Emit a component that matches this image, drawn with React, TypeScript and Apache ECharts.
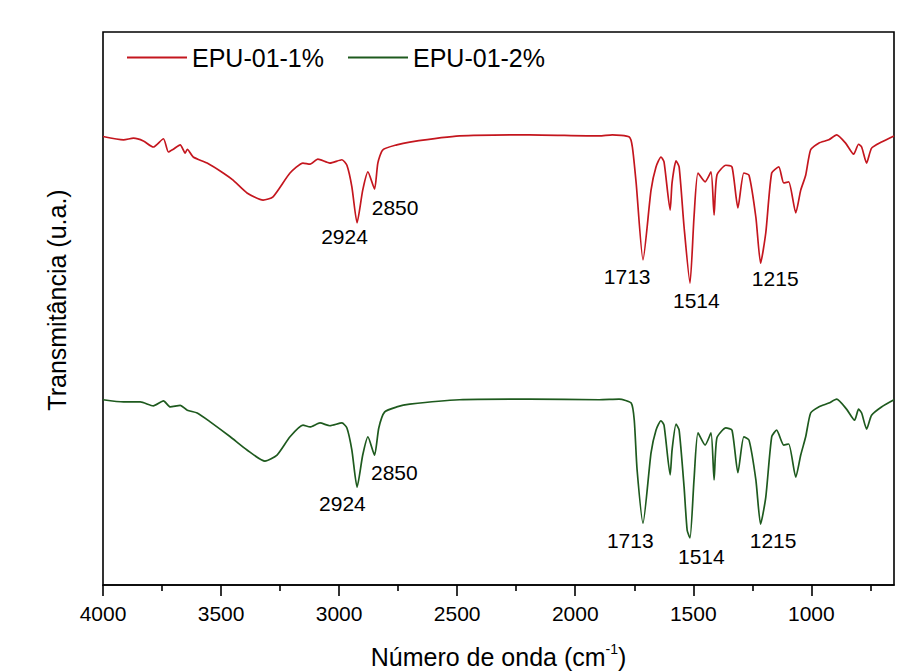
import React, { useEffect, useRef } from "react";
import * as echarts from "echarts";

// Wavenumber (cm-1) and transmittance (a.u.)
const redWn = [4000,3913,3871,3829,3787,3744,3723,3702,3673,3652,3643,3618,3559,3491,3449,3390,3322,3280,3208,3153,3123,3090,3039,2988,2967,2946,2924,2900,2878,2850,2836,2815,2756,2701,2490,2194,1898,1843,1771,1758,1742,1713,1679,1658,1637,1624,1598,1590,1573,1560,1539,1514,1497,1480,1450,1425,1412,1400,1362,1336,1311,1286,1264,1235,1215,1193,1168,1138,1117,1096,1066,1045,1024,1003,969,926,893,855,821,800,787,766,745,703,650];
const redT = [81.1,80.5,80.8,80.3,79.2,80.7,78.3,78.8,79.6,78.1,78.8,77.4,76.3,74.5,73.2,70.9,69.6,70.2,74.5,76.3,76.1,77.0,76.3,76.9,75.9,72.0,65.5,71.4,74.7,71.6,76.3,78.7,79.6,80.1,81.2,81.4,81.2,81.4,81.0,79.2,72.7,58.8,71.4,75.6,77.4,76.5,67.8,72.7,76.7,75.6,64.7,54.6,66.5,74.5,72.9,74.7,66.9,74.1,75.9,75.6,68.2,74.5,74.1,66.5,58.2,63.7,74.5,75.6,72.7,72.9,67.3,71.4,74.1,78.7,79.9,80.5,81.4,79.9,77.9,79.7,79.2,76.3,79.0,80.1,81.2];

const greenWn = [4000,3913,3842,3787,3744,3715,3673,3643,3601,3546,3461,3390,3314,3263,3208,3153,3123,3081,3039,2988,2967,2946,2924,2900,2878,2850,2832,2807,2756,2701,2490,2194,1898,1814,1763,1750,1738,1713,1679,1658,1637,1624,1598,1590,1573,1560,1539,1526,1514,1497,1480,1450,1425,1412,1400,1362,1336,1311,1286,1264,1235,1215,1193,1168,1147,1117,1096,1066,1045,1024,1003,969,926,893,851,817,800,787,766,745,703,650];
const greenT = [33.5,33.1,33.1,32.4,33.3,32.2,32.5,31.6,31.1,29.5,26.8,24.4,22.4,23.5,26.8,28.9,28.6,29.3,28.8,29.3,28.4,24.4,17.7,23.5,26.8,23.5,28.4,31.3,32.2,32.7,33.5,33.6,33.5,33.6,32.9,29.8,20.8,11.2,23.9,28.0,29.7,28.9,19.9,24.4,29.1,28.0,17.7,9.9,8.5,19.0,27.5,25.3,27.5,19.0,26.6,28.4,28.0,20.3,26.8,26.2,19.0,11.0,15.9,26.8,28.0,25.3,25.5,19.5,23.5,26.8,31.1,32.2,32.9,33.6,31.8,29.8,31.8,31.1,28.2,30.7,32.2,33.5];

// Peak annotations (label text, label anchor in data units)
const peakLabels = ["2924", "2850", "1713", "1514", "1215"];
const redLabelWn = [2977, 2763, 1780, 1487, 1153];
const redLabelT = [63.1, 68.2, 55.7, 51.5, 55.5];
const greenLabelWn = [2986, 2766, 1767, 1466, 1162];
const greenLabelT = [14.8, 20.3, 8.0, 5.1, 8.1];

const majorTicks = [4000, 3500, 3000, 2500, 2000, 1500, 1000];
const minorTicks = [3750, 3250, 2750, 2250, 1750, 1250, 750];

const seriesNames = ["EPU-01-1%", "EPU-01-2%"];

const FONT = "'Liberation Sans', Arial, sans-serif";
const RED = "#c4161e";
const GREEN = "#1e5a1e";

export default function App() {
  const ref = useRef<HTMLDivElement>(null);
  useEffect(() => {
    if (!ref.current) return;
    const chart = echarts.init(ref.current, undefined, { renderer: "svg" });
    const redData = redWn.map((w, i) => [w, redT[i]]);
    const greenData = greenWn.map((w, i) => [w, greenT[i]]);
    const redLab = peakLabels.map((n, i) => ({ name: n, value: [redLabelWn[i], redLabelT[i]] }));
    const greenLab = peakLabels.map((n, i) => ({ name: n, value: [greenLabelWn[i], greenLabelT[i]] }));
    const labelSeries = (data: any[]) => ({
      type: "scatter",
      symbolSize: 0,
      silent: true,
      itemStyle: { opacity: 1, color: "#000" },
      data,
      label: {
        show: true,
        position: "inside",
        formatter: (p: any) => p.name,
        fontSize: 21,
        fontFamily: FONT,
        color: "#000",
        opacity: 1,
        textBorderWidth: 0,
      },
    });
    chart.setOption({
      animation: false,
      backgroundColor: "#fff",
      grid: {
        left: 103,
        top: 32,
        width: 791,
        height: 553,
        show: true,
        borderColor: "#000",
        borderWidth: 1.6,
        backgroundColor: "transparent",
        containLabel: false,
        outerBoundsMode: "none",
      },
      legend: {
        data: seriesNames,
        left: 122,
        top: 40,
        icon: "rect",
        itemWidth: 60,
        itemHeight: 2,
        itemGap: 24,
        textStyle: { fontSize: 25, fontFamily: FONT, color: "#000" },
      },
      xAxis: [
        {
          type: "value",
          min: 650,
          max: 4000,
          inverse: true,
          position: "bottom",
          axisLine: { show: true, lineStyle: { color: "#000", width: 1.6 } },
          axisTick: {
            show: true,
            inside: false,
            length: 11,
            customValues: majorTicks,
            lineStyle: { color: "#000", width: 1.6 },
          },
          axisLabel: {
            show: true,
            customValues: majorTicks,
            formatter: (v: number) => String(v),
            fontSize: 21,
            fontFamily: FONT,
            color: "#000",
            margin: 18,
          },
          splitLine: { show: false },
          name: "{a|Número de onda (cm}{s|-1}{a|)}",
          nameLocation: "middle",
          nameGap: 57,
          nameTextStyle: {
            rich: {
              a: { fontSize: 25, fontFamily: FONT, color: "#000", lineHeight: 30 },
              s: { fontSize: 14, fontFamily: FONT, color: "#000", verticalAlign: "top", lineHeight: 30 },
            },
          },
        },
        {
          type: "value",
          min: 650,
          max: 4000,
          inverse: true,
          position: "bottom",
          axisLine: { show: false },
          axisTick: {
            show: true,
            inside: false,
            length: 6,
            customValues: minorTicks,
            lineStyle: { color: "#000", width: 1.6 },
          },
          axisLabel: { show: false },
          splitLine: { show: false },
        },
      ],
      yAxis: {
        type: "value",
        min: 0,
        max: 100,
        axisLine: { show: false },
        axisTick: { show: false },
        axisLabel: { show: false },
        splitLine: { show: false },
        name: "Transmitância (u.a.)",
        nameLocation: "middle",
        nameRotate: 90,
        nameGap: 34,
        nameTextStyle: { fontSize: 25, fontFamily: FONT, color: "#000", padding: [0, 0, 0, 17] },
      },
      series: [
        {
          name: seriesNames[0],
          type: "line",
          data: redData,
          showSymbol: false,
          symbol: "none",
          smooth: 0.2,
          lineStyle: { color: RED, width: 1.7 },
          itemStyle: { color: RED },
        },
        {
          name: seriesNames[1],
          type: "line",
          data: greenData,
          showSymbol: false,
          symbol: "none",
          smooth: 0.2,
          lineStyle: { color: GREEN, width: 1.7 },
          itemStyle: { color: GREEN },
        },
        labelSeries(redLab),
        labelSeries(greenLab),
      ],
    });
    return () => chart.dispose();
  }, []);
  return (
    <div
      ref={ref}
      style={{ position: "fixed", left: 0, top: 0, width: 914, height: 671 }}
    />
  );
}
